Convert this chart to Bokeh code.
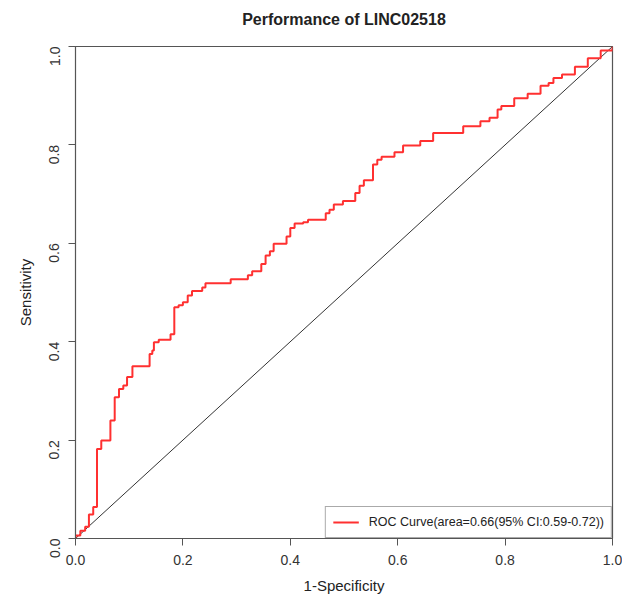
from bokeh.plotting import figure
from bokeh.models import Range1d, FixedTicker, PrintfTickFormatter, Legend, LegendItem
from bokeh.embed import file_html
from bokeh.resources import INLINE
import math

# ROC step corners: false positive rate (1-specificity) and sensitivity after each jump
fpr = [0.0, 0.0, 0.009, 0.018, 0.025, 0.033, 0.040, 0.048, 0.065, 0.073, 0.081, 0.089,
       0.096, 0.106, 0.138, 0.143, 0.146, 0.155, 0.177, 0.184, 0.192, 0.200, 0.209,
       0.217, 0.236, 0.242, 0.289, 0.321, 0.329, 0.346, 0.354, 0.362, 0.369, 0.393,
       0.400, 0.408, 0.424, 0.433, 0.466, 0.473, 0.481, 0.498, 0.521, 0.529, 0.537,
       0.554, 0.562, 0.570, 0.594, 0.610, 0.642, 0.666, 0.722, 0.754, 0.771, 0.786,
       0.793, 0.817, 0.842, 0.866, 0.881, 0.890, 0.906, 0.930, 0.954, 0.978, 1.0]
tpr = [0.0, 0.006, 0.016, 0.024, 0.049, 0.064, 0.182, 0.199, 0.240, 0.287, 0.304, 0.311,
       0.328, 0.350, 0.375, 0.382, 0.399, 0.404, 0.415, 0.470, 0.474, 0.480, 0.494,
       0.503, 0.510, 0.519, 0.527, 0.535, 0.543, 0.558, 0.575, 0.584, 0.599, 0.614,
       0.631, 0.640, 0.643, 0.648, 0.661, 0.668, 0.679, 0.686, 0.702, 0.717, 0.728,
       0.760, 0.770, 0.776, 0.785, 0.799, 0.808, 0.824, 0.838, 0.848, 0.855, 0.872,
       0.879, 0.895, 0.904, 0.920, 0.926, 0.936, 0.943, 0.959, 0.976, 0.992, 1.0]
diag_x = [0.0, 1.0]
diag_y = [0.0, 1.0]
ticks = [0.0, 0.2, 0.4, 0.6, 0.8, 1.0]
legend_label = "ROC Curve(area=0.66(95% CI:0.59-0.72))"
title_text = "Performance of LINC02518"

FONT = "Liberation Sans"

p = figure(width=622, height=596, output_backend="svg", toolbar_location=None,
           x_range=Range1d(0, 1), y_range=Range1d(0, 1),
           min_border_left=75, min_border_right=10, min_border_top=46, min_border_bottom=58,
           title=title_text + "\n")

p.title.align = "center"
p.title.text_font = FONT
p.title.text_font_size = "16px"
p.title.text_font_style = "bold"
p.title.text_color = "#222222"
p.title.offset = 0
p.title.standoff = 4

p.xgrid.visible = False
p.ygrid.visible = False
p.outline_line_color = "#555555"
p.outline_line_width = 1.2
p.outline_line_alpha = 1.0

for ax in (p.xaxis[0], p.yaxis[0]):
    ax.ticker = FixedTicker(ticks=ticks)
    ax.formatter = PrintfTickFormatter(format="%.1f")
    ax.minor_tick_line_color = None
    ax.major_tick_out = 7
    ax.major_tick_in = 0
    ax.axis_line_color = "#555555"
    ax.major_tick_line_color = "#555555"
    ax.major_label_text_font = FONT
    ax.major_label_text_font_size = "14px"
    ax.major_label_text_color = "#333333"
    ax.axis_label_text_font = FONT
    ax.axis_label_text_font_size = "15px"
    ax.axis_label_text_font_style = "normal"
    ax.axis_label_text_color = "#222222"

p.xaxis.axis_label = "1-Specificity"
p.yaxis.axis_label = "Sensitivity"
p.yaxis.major_label_orientation = math.pi / 2
p.xaxis.major_label_standoff = 9
p.yaxis.major_label_standoff = 14
p.xaxis.axis_label_standoff = 9
p.yaxis.axis_label_standoff = 8

p.line(diag_x, diag_y, line_color="#333333", line_width=1)
roc = p.step(fpr, tpr, mode="after", line_color="#FF3030", line_width=2)

legend = Legend(items=[LegendItem(label=legend_label, renderers=[roc])],
                location="bottom_right")
legend.margin = 0
legend.padding = 7
legend.border_line_color = "#555555"
legend.border_line_width = 1
legend.label_text_font = FONT
legend.label_text_font_size = "12.5px"
legend.label_text_color = "#222222"
legend.label_height = 16
legend.glyph_height = 16
legend.glyph_width = 26
legend.label_standoff = 10
legend.background_fill_alpha = 1.0
p.add_layout(legend)

open("out.html", "w").write(file_html(p, INLINE))
